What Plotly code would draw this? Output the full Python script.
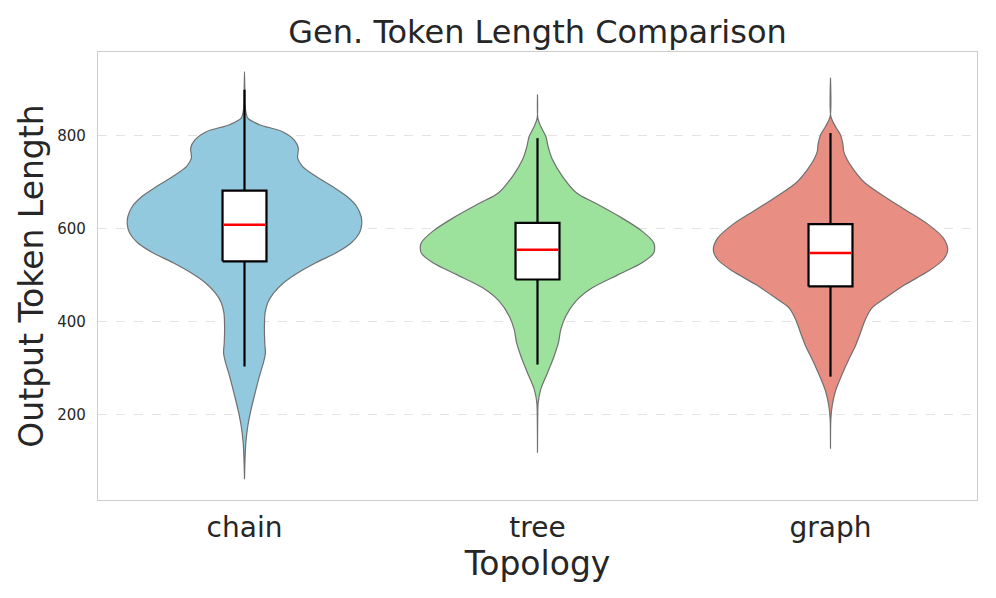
import numpy as np
import plotly.graph_objects as go

# ---- data ----
categories = ["chain", "tree", "graph"]

# violin outlines: token-length levels and relative density (half-width) at each level
chain_levels = [938, 899, 863, 838, 824, 809, 791, 774, 752, 734, 713, 691, 670, 648, 627, 609,
                591, 570, 548, 527, 505, 484, 462, 441, 419, 391, 355, 333, 312, 283, 247, 212,
                176, 140, 104, 61]
chain_density = [0, 1, 2, 10, 45, 115, 150, 162, 160, 175, 215, 265, 308, 338, 351, 353,
                 346, 322, 275, 215, 160, 118, 88, 70, 62, 60, 61, 63, 57, 45, 32, 20,
                 10, 4, 1.5, 0]

tree_levels = [888, 838, 820, 799, 777, 749, 713, 677, 655, 623, 595, 570, 559, 548, 527, 502,
               473, 444, 412, 383, 355, 326, 290, 255, 226, 190, 118]
tree_density = [0, 1, 10, 25, 32, 45, 75, 118, 175, 255, 315, 350, 353, 350, 315, 245,
                165, 115, 85, 70, 63, 50, 30, 10, 2, 0.5, 0]

graph_levels = [924, 842, 820, 802, 784, 766, 749, 727, 698, 673, 641, 609, 580, 555, 534, 509,
                480, 451, 430, 405, 376, 348, 319, 287, 251, 219, 190, 127]
graph_density = [0, 1, 15, 30, 37, 40, 50, 70, 105, 155, 225, 295, 340, 353, 340, 295,
                 225, 165, 125, 105, 90, 75, 55, 35, 15, 5, 1, 0]

# box statistics
q1_values = [530, 491, 476]
median_values = [609, 555, 548]
q3_values = [682, 613, 610]
whisker_low = [304, 308, 282]
whisker_high = [899, 795, 806]

# ---- style ----
fill_colors = ["#93C9DE", "#9CE29C", "#E98E83"]
edge_color = "rgb(112,112,112)"
violin_half_width = 0.4
box_half_width = 0.075
font_family = "DejaVu Sans"

levels_all = [chain_levels, tree_levels, graph_levels]
density_all = [chain_density, tree_density, graph_density]

fig = go.Figure()

for i, cat in enumerate(categories):
    lv = np.array(levels_all[i], dtype=float)
    d = np.array(density_all[i], dtype=float)
    d = d / d.max() * violin_half_width
    xs = np.concatenate([i + d, (i - d)[::-1]])
    ys = np.concatenate([lv, lv[::-1]])
    fig.add_trace(go.Scatter(
        x=xs, y=ys, mode="lines", fill="toself", fillcolor=fill_colors[i],
        line=dict(color=edge_color, width=1.2, shape="spline", smoothing=0.8),
        hoverinfo="skip", showlegend=False, name=cat))

for i, cat in enumerate(categories):
    # whisker
    fig.add_trace(go.Scatter(
        x=[i, i], y=[whisker_low[i], whisker_high[i]], mode="lines",
        line=dict(color="black", width=2.2), showlegend=False, hoverinfo="skip"))
    # box
    x0, x1 = i - box_half_width, i + box_half_width
    fig.add_trace(go.Scatter(
        x=[x0, x1, x1, x0, x0],
        y=[q1_values[i], q1_values[i], q3_values[i], q3_values[i], q1_values[i]],
        mode="lines", fill="toself", fillcolor="white",
        line=dict(color="black", width=2.2), showlegend=False, hoverinfo="skip"))
    # median
    fig.add_trace(go.Scatter(
        x=[x0 + 0.004, x1 - 0.004], y=[median_values[i], median_values[i]], mode="lines",
        line=dict(color="red", width=2.5), showlegend=False, hoverinfo="skip"))

fig.update_layout(
    width=996, height=598,
    margin=dict(l=98, r=19, t=52, b=98),
    paper_bgcolor="white", plot_bgcolor="white",
    font=dict(family=font_family, color="#262626"),
    title=dict(text="Gen. Token Length Comparison", x=0.5, xref="paper",
               y=1 - 32 / 598, yref="container", yanchor="middle", xanchor="center",
               font=dict(size=32, family=font_family, color="#262626")),
    showlegend=False,
)

fig.update_xaxes(
    range=[-0.5, 2.5], tickvals=[0, 1, 2], ticktext=categories,
    tickfont=dict(size=28, color="#262626"),
    ticks="outside", ticklen=2, tickcolor="rgba(0,0,0,0)",
    showgrid=False, zeroline=False, automargin=False,
    showline=True, mirror=True, linecolor="#cccccc", linewidth=1.25,
    title=dict(text="Topology", font=dict(size=33, color="#262626"), standoff=0),
)
fig.update_yaxes(
    range=[16.6, 980.4], tickvals=[200, 400, 600, 800],
    tickfont=dict(size=15, color="#262626"),
    ticks="outside", ticklen=8, tickcolor="rgba(0,0,0,0)",
    showgrid=True, gridcolor="#e3e3e3", griddash="dash", gridwidth=1,
    zeroline=False, automargin=False,
    showline=True, mirror=True, linecolor="#cccccc", linewidth=1.25,
    title=dict(text="Output Token Length", font=dict(size=33, color="#262626"), standoff=3),
)

fig.write_html("out.html", config={"displayModeBar": False},
               post_script="document.body.style.margin='0px';")
